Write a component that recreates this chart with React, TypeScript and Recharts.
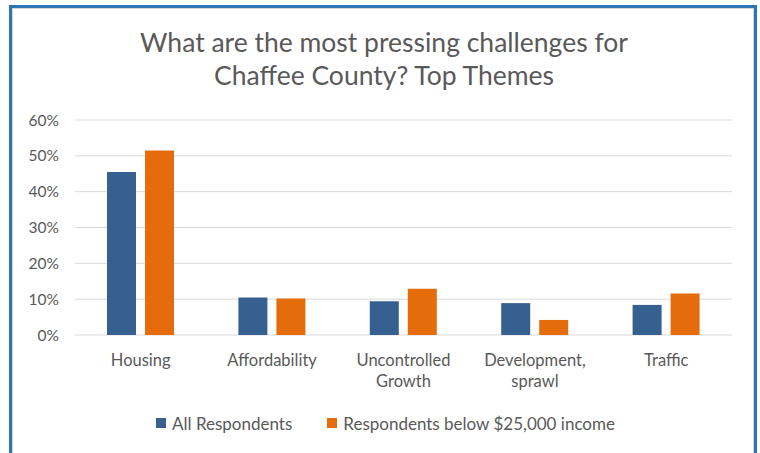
import { BarChart, Bar, XAxis, YAxis, CartesianGrid, Legend } from "recharts"

const categories = ["Housing", "Affordability", "Uncontrolled Growth", "Development, sprawl", "Traffic"]
const tickLines = [["Housing"], ["Affordability"], ["Uncontrolled", "Growth"], ["Development,", "sprawl"], ["Traffic"]]
const allRespondents = [0.455, 0.105, 0.094, 0.089, 0.084]
const lowIncome = [0.515, 0.102, 0.129, 0.042, 0.116]
const yTicks = [0, 0.1, 0.2, 0.3, 0.4, 0.5, 0.6]
const seriesNames = ["All Respondents", "Respondents below $25,000 income"]

const BLUE = "#36608F"
const ORANGE = "#E46C0A"
const TEXT = "#595959"
const FONT = "Lato, 'Liberation Sans', sans-serif"

const data = categories.map((c, i) => ({ name: c, all: allRespondents[i], low: lowIncome[i] }))

function XTick(props: any) {
  const { x, y, payload } = props
  const lines = tickLines[payload.index] ?? [payload.value]
  return (
    <text x={x} y={y} textAnchor="middle" fill={TEXT} fontSize={16.5} fontFamily={FONT}>
      {lines.map((l: string, i: number) => (
        <tspan key={i} x={x} dy={i === 0 ? 23 : 21}>
          {l}
        </tspan>
      ))}
    </text>
  )
}

function LegendContent() {
  const colors = [BLUE, ORANGE]
  return (
    <div style={{ display: "flex", justifyContent: "center", alignItems: "center", height: 20, gap: 35, paddingLeft: 39 }}>
      {seriesNames.map((n, i) => (
        <div key={n} style={{ display: "flex", alignItems: "center", gap: 6 }}>
          <span style={{ width: 10, height: 10, background: colors[i], display: "inline-block" }} />
          <span style={{ color: TEXT, fontSize: 17, fontFamily: FONT }}>{n}</span>
        </div>
      ))}
    </div>
  )
}

export default function App() {
  return (
    <div style={{ position: "fixed", left: 0, top: 0, width: 760, height: 453, overflow: "hidden", background: "#fff" }}>
      <div
        style={{
          position: "absolute",
          left: 9,
          top: 5,
          width: 748,
          height: 470,
          boxSizing: "border-box",
          border: "3px solid #2E75B6",
          boxShadow: "inset 0 0 0 1px #D4D4D4",
        }}
      />
      <div
        style={{
          position: "absolute",
          left: 9,
          width: 750,
          top: 26,
          textAlign: "center",
          color: TEXT,
          fontFamily: FONT,
          fontSize: 26.5,
          lineHeight: "33px",
        }}
      >
        What are the most pressing challenges for
        <br />
        Chaffee County? Top Themes
      </div>
      <div style={{ position: "absolute", left: 0, top: 0 }}>
        <BarChart
          width={760}
          height={453}
          data={data}
          margin={{ top: 120, right: 28, left: 0, bottom: 20 }}
          barSize={29}
          barGap={9}
        >
          <CartesianGrid vertical={false} stroke="#D9D9D9" />
          <XAxis
            dataKey="name"
            axisLine={false}
            tickLine={false}
            tickSize={0}
            tickMargin={8}
            height={78}
            interval={0}
            tick={<XTick />}
          />
          <YAxis
            width={75}
            domain={[0, 0.6]}
            ticks={yTicks}
            axisLine={false}
            tickLine={false}
            tickMargin={10}
            tickFormatter={(v: number) => `${Math.round(v * 100)}%`}
            tick={{ fill: TEXT, fontSize: 15.5, fontFamily: FONT }}
          />
          <Legend verticalAlign="bottom" content={<LegendContent />} />
          <Bar dataKey="all" name={seriesNames[0]} fill={BLUE} isAnimationActive={false} />
          <Bar dataKey="low" name={seriesNames[1]} fill={ORANGE} isAnimationActive={false} />
        </BarChart>
      </div>
    </div>
  )
}
